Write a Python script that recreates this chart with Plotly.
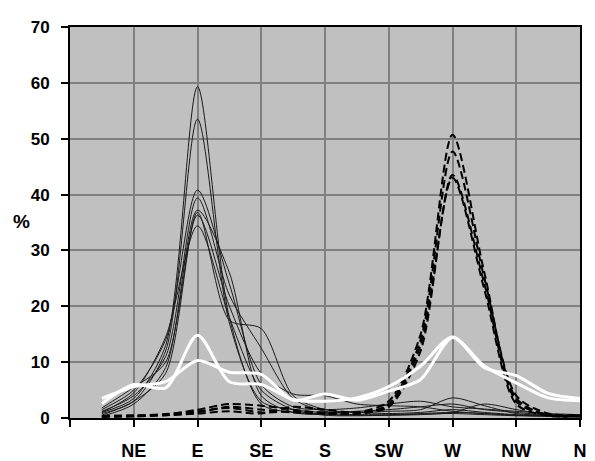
import plotly.graph_objects as go

# 16 compass directions, plotted at half-steps; only main directions labelled
positions = [0.5, 1, 1.5, 2, 2.5, 3, 3.5, 4, 4.5, 5, 5.5, 6, 6.5, 7, 7.5, 8]
tick_positions = [0, 1, 2, 3, 4, 5, 6, 7, 8]
tick_labels = ["", "NE", "E", "SE", "S", "SW", "W", "NW", "N"]

# solid black series (peak at E)
solid_1 = [1.0, 3.5, 13, 59.3, 18, 2.5, 1.0, 0.8, 0.6, 0.6, 0.8, 1.0, 0.8, 0.5, 0.3, 0.3]
solid_2 = [0.8, 3.0, 12, 53.5, 17, 3.0, 1.5, 1.0, 1.2, 1.5, 2.0, 2.5, 1.5, 1.0, 0.5, 0.4]
solid_3 = [1.5, 5.0, 14, 40.8, 24, 6.0, 2.0, 1.5, 1.8, 2.5, 3.0, 2.0, 1.6, 1.2, 0.8, 0.6]
solid_4 = [1.2, 4.0, 11, 39.4, 22, 12.5, 3.5, 1.2, 1.0, 1.2, 1.5, 3.6, 2.2, 0.8, 0.5, 0.5]
solid_5 = [0.5, 3.0, 8, 36.8, 17.5, 16.0, 4.0, 1.5, 1.0, 0.8, 1.0, 1.5, 1.0, 0.6, 0.4, 0.3]
solid_6 = [1.8, 5.5, 10, 36.3, 20, 8.0, 4.3, 4.0, 2.5, 2.2, 2.0, 1.2, 0.8, 0.5, 0.5, 0.4]
solid_7 = [1.0, 4.5, 14.5, 34.4, 18, 5.0, 1.5, 0.5, 0.4, 0.5, 0.6, 1.0, 2.5, 1.5, 0.6, 0.5]
solid_8 = [0.3, 2.5, 9, 37.2, 26, 4.0, 1.0, 0.6, 0.5, 0.5, 0.7, 0.8, 0.6, 0.4, 0.3, 0.2]

# dashed black series (peak at W)
dashed_1 = [0.3, 0.3, 0.5, 1.0, 2.0, 1.5, 1.0, 0.8, 1.0, 3.0, 15, 50.7, 26, 3.5, 0.5, 0.3]
dashed_2 = [0.2, 0.3, 0.6, 1.5, 2.5, 2.2, 1.5, 0.8, 0.8, 2.5, 14, 47.7, 25, 4.0, 0.8, 0.5]
dashed_3 = [0.3, 0.5, 0.5, 0.8, 1.2, 0.8, 2.0, 1.5, 1.0, 2.0, 12, 43.5, 24, 3.0, 0.6, 0.4]
dashed_4 = [0.4, 0.4, 0.7, 1.2, 1.8, 1.0, 1.2, 1.0, 0.7, 2.2, 13, 43.0, 23, 2.5, 0.4, 0.3]

# white series (mean curves)
white_1 = [2.6, 6.0, 5.4, 14.8, 6.5, 6.0, 3.3, 3.0, 3.6, 5.6, 9.3, 14.5, 9.0, 7.6, 4.4, 3.5]
white_2 = [3.5, 5.6, 6.5, 10.3, 8.2, 7.8, 3.2, 4.3, 3.2, 4.8, 6.9, 14.4, 9.3, 6.3, 3.6, 3.1]

solid_series = [solid_1, solid_2, solid_3, solid_4, solid_5, solid_6, solid_7, solid_8]
dashed_series = [dashed_1, dashed_2, dashed_3, dashed_4]
white_series = [white_1, white_2]

fig = go.Figure()
for s in solid_series:
    fig.add_trace(go.Scatter(x=positions, y=s, mode="lines",
                             line=dict(color="#1a1a1a", width=1, shape="spline", smoothing=0.8),
                             showlegend=False, hoverinfo="skip"))
for s in dashed_series:
    fig.add_trace(go.Scatter(x=positions, y=s, mode="lines",
                             line=dict(color="#000000", width=2, dash="8px,4px", shape="spline", smoothing=0.8),
                             showlegend=False, hoverinfo="skip"))
for s in white_series:
    fig.add_trace(go.Scatter(x=positions, y=s, mode="lines",
                             line=dict(color="#ffffff", width=3, shape="spline", smoothing=0.8),
                             showlegend=False, hoverinfo="skip"))

font_family = "Liberation Sans, Arial, sans-serif"

fig.update_layout(
    width=595, height=461,
    margin=dict(l=70, r=15, t=27, b=43, autoexpand=False),
    paper_bgcolor="white",
    plot_bgcolor="#c0c0c0",
    font=dict(family=font_family, size=16, color="black"),
    xaxis=dict(
        range=[0, 8], tickmode="array", tickvals=tick_positions, ticktext=tick_labels,
        showgrid=True, gridcolor="#808080", gridwidth=1.5,
        ticks="outside", ticklen=7, tickwidth=1.5, tickcolor="black",
        showline=True, linecolor="black", linewidth=2, mirror=True,
        tickfont=dict(family=font_family, size=18, color="black", weight="bold"),
        ticklabelstandoff=8, zeroline=False, automargin=False,
    ),
    yaxis=dict(
        range=[0, 70], tickmode="linear", tick0=0, dtick=10,
        showgrid=True, gridcolor="#808080", gridwidth=1.5,
        ticks="outside", ticklen=7, tickwidth=1.5, tickcolor="black",
        showline=True, linecolor="black", linewidth=2, mirror=True,
        tickfont=dict(family=font_family, size=17, color="black", weight="bold"),
        ticklabelstandoff=8, zeroline=False, automargin=False,
    ),
    annotations=[dict(text="%", x=(21 - 70) / 510, y=(418 - 221) / 391,
                      xref="paper", yref="paper", showarrow=False,
                      xanchor="center", yanchor="middle",
                      font=dict(family=font_family, size=19, color="black", weight="bold"))],
)

fig.write_html("out.html")
